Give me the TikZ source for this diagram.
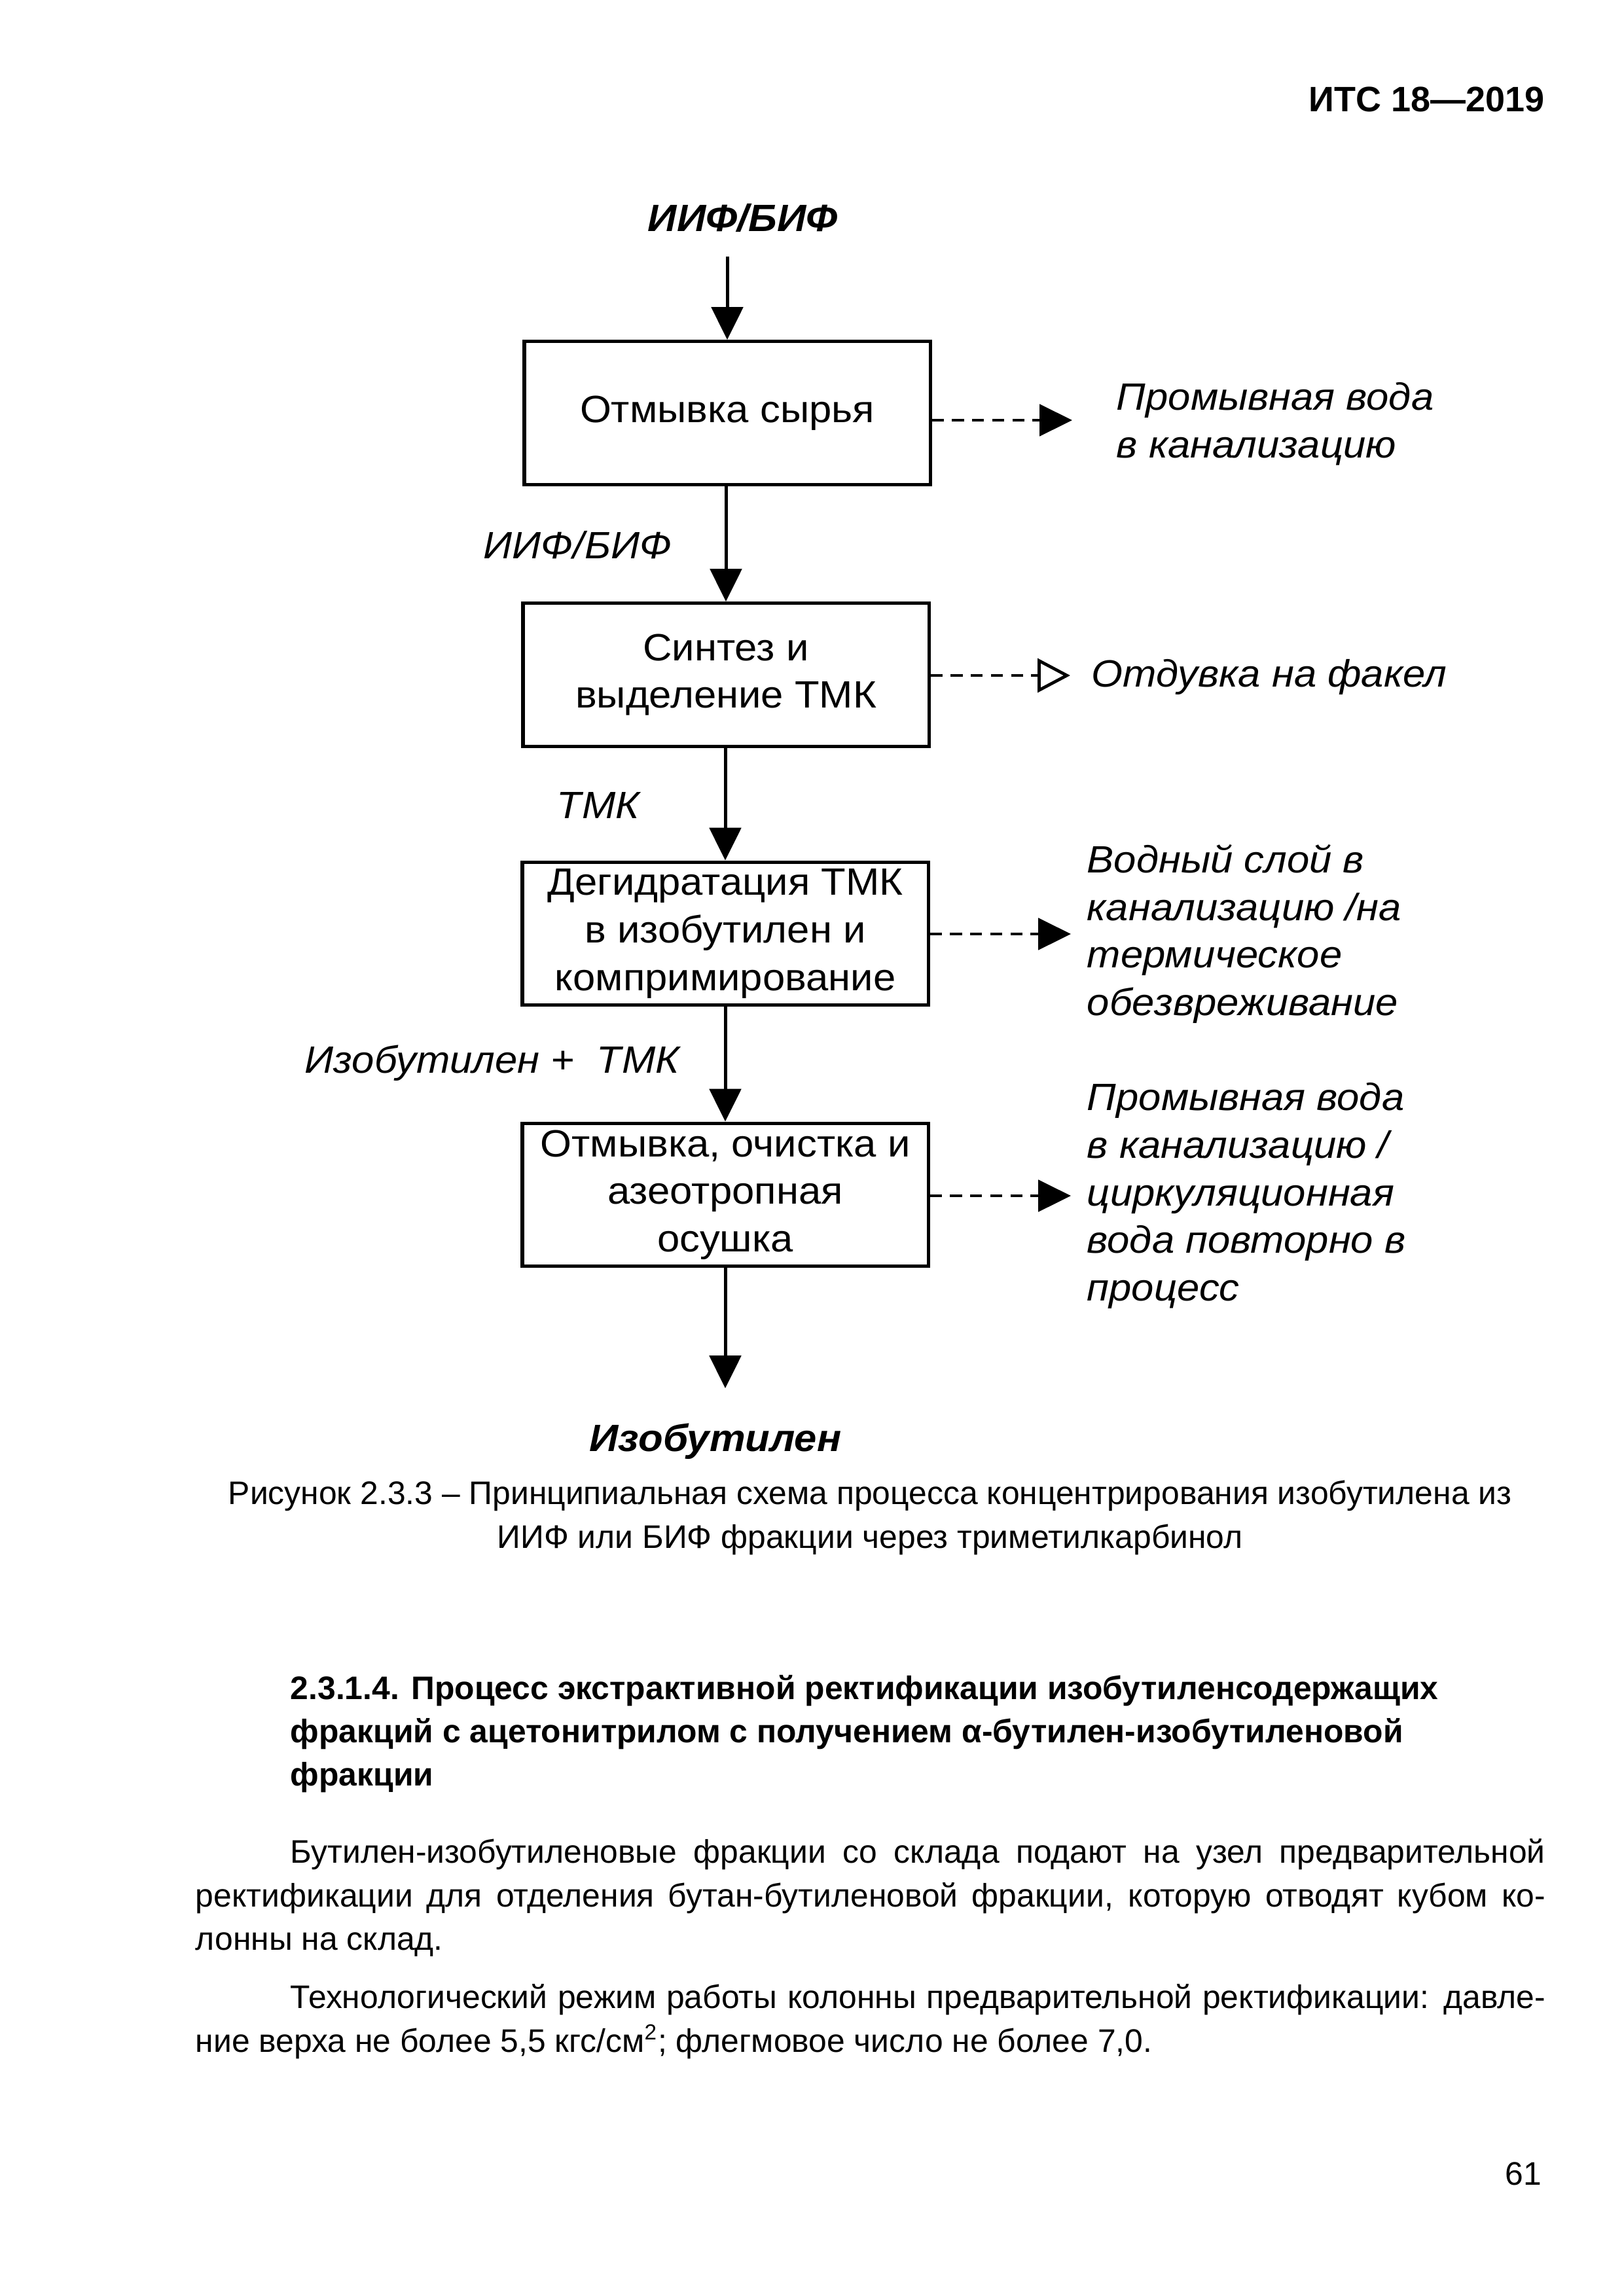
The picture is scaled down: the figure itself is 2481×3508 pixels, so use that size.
\documentclass[tikz,border=0pt]{standalone}
\usepackage{fontspec}
\setmainfont{Liberation Sans}
\newfontfamily\dfont[FakeStretch=1.06]{Liberation Sans}
\usetikzlibrary{arrows.meta}
\newcommand{\jline}[2]{\makebox[#1][s]{#2}}
\begin{document}
\begin{tikzpicture}[x=0.2409pt,y=-0.2409pt,
  box/.style={draw, line width=1.25pt, minimum width=149.4pt, minimum height=52.7pt, align=center, inner sep=0pt, font=\dfont\fontsize{14}{17.5}\selectfont},
  lbl/.style={inner sep=0pt, align=left, font=\dfont\fontsize{14}{17.5}\selectfont\itshape},
  blbl/.style={inner sep=0pt, font=\dfont\fontsize{14}{17.5}\selectfont\bfseries\itshape},
  flow/.style={line width=1.2pt, -{Triangle[length=12pt,width=11.6pt]}},
  side/.style={line width=1.15pt, dash pattern=on 4.4pt off 3pt, -{Triangle[length=12pt,width=11.6pt]}},
  sideopen/.style={line width=1.15pt, dash pattern=on 4.4pt off 3pt, -{Triangle[open,length=12pt,width=12.4pt]}},
  body/.style={inner sep=0pt, font=\fontsize{12}{16}\selectfont},
  bodyb/.style={inner sep=0pt, font=\fontsize{12}{16}\selectfont\bfseries}
]
\useasboundingbox (0,0) rectangle (2481,3508);
\fill[white] (0,0) rectangle (2481,3508);

% header and page number
\node[anchor=base east, inner sep=0pt, font=\fontsize{13}{16}\selectfont\bfseries] (hdr) at (2360,170) {ИТС 18—2019};
\node[anchor=base east, body] (pg) at (2356,3338) {61};

% boxes
\node[box] (b1) at (1111,631) {Отмывка сырья};
\node[box] (b2) at (1109,1031) {Синтез и\\выделение ТМК};
\node[box] (b3) at (1108,1426.5) {Дегидратация ТМК\\в изобутилен и\\компримирование};
\node[box] (b4) at (1108,1825.5) {Отмывка, очистка и\\азеотропная\\осушка};

% main flow
\node[blbl, anchor=base west] (in) at (989,353) {ИИФ/БИФ};
\coordinate (inS) at (1111,392);
\draw[flow] (inS) -- (b1.north);
\draw[flow] (b1.south -| b2.north) -- (b2.north);
\draw[flow] (b2.south -| b3.north) -- (b3.north);
\draw[flow] (b3.south) -- (b4.north);
\coordinate (outE) at (1108,2121);
\draw[flow] (b4.south) -- (outE);
\node[blbl, anchor=base] (out) at (1093,2217) {Изобутилен};

\node[lbl, anchor=base west] (f1) at (738,853) {ИИФ/БИФ};
\node[lbl, anchor=base west] (f2) at (850,1250) {ТМК};
\node[lbl, anchor=base west] (f3) at (465,1639) {Изобутилен +\ \ ТМК};

% side streams
\coordinate (d1) at (1638,642);
\coordinate (d2) at (1635,1032);
\coordinate (d3) at (1636,1427);
\coordinate (d4) at (1636,1827);
\draw[side] (b1.east |- d1) -- (d1);
\draw[sideopen] (b2.east |- d2) -- (d2);
\draw[side] (b3.east |- d3) -- (d3);
\draw[side] (b4.east |- d4) -- (d4);

\node[lbl, anchor=west] (l1) at (1705,648) {Промывная вода\\в канализацию};
\node[lbl, anchor=base west] (l2) at (1667,1049) {Отдувка на факел};
\node[lbl, anchor=west] (l3) at (1660,1427) {Водный слой в\\канализацию /на\\термическое\\обезвреживание};
\node[lbl, anchor=west] (l4) at (1660,1827) {Промывная вода\\в канализацию /\\циркуляционная\\вода повторно в\\процесс};

% caption
\node[body, anchor=base] (cap1) at (1329,2298) {Рисунок 2.3.3 – Принципиальная схема процесса концентрирования изобутилена из};
\node[body, anchor=base] (cap2) at (1329,2365) {ИИФ или БИФ фракции через триметилкарбинол};

% section heading
\node[bodyb, anchor=base west] (h1) at (443,2596) {2.3.1.4. Процесс экстрактивной ректификации изобутиленсодержащих};
\node[bodyb, anchor=base west] (h2) at (443,2662) {фракций с ацетонитрилом с получением α-бутилен-изобутиленовой};
\node[bodyb, anchor=base west] (h3) at (443,2728) {фракции};

% paragraphs
\node[body, anchor=base west] (p1a) at (443,2846) {\jline{461.8pt}{Бутилен-изобутиленовые фракции со склада подают на узел предварительной}};
\node[body, anchor=base west] (p1b) at (298,2913) {\jline{496.7pt}{ректификации для отделения бутан-бутиленовой фракции, которую отводят кубом ко-}};
\node[body, anchor=base west] (p1c) at (298,2979) {лонны на склад.};
\node[body, anchor=base west] (p2a) at (443,3068) {\jline{461.8pt}{Технологический режим работы колонны предварительной ректификации: давле-}};
\node[body, anchor=base west] (p2b) at (298,3135) {ние верха не более 5,5 кгс/см\textsuperscript{2}; флегмовое число не более 7,0.};
\end{tikzpicture}
\end{document}
